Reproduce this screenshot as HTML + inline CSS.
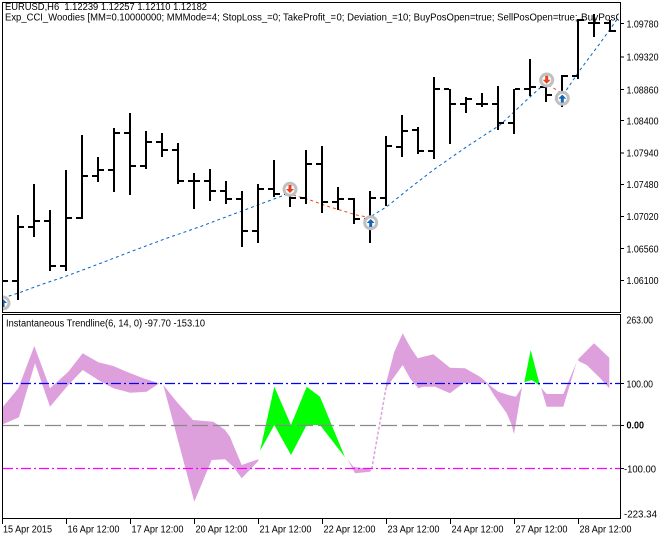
<!DOCTYPE html>
<html><head><meta charset="utf-8"><style>
html,body{margin:0;padding:0;background:#fff;}
svg{display:block;}
text{font-family:"Liberation Sans",Arial,sans-serif;font-size:10px;fill:#000;}
</style></head><body>
<svg width="672" height="539" viewBox="0 0 672 539" xmlns="http://www.w3.org/2000/svg">
<rect width="672" height="539" fill="#fff"/>
<defs>
<clipPath id="c1"><rect x="3" y="3" width="617" height="309"/></clipPath>
<clipPath id="c2"><rect x="3" y="315" width="617" height="203"/></clipPath>
<clipPath id="ct"><rect x="0" y="0" width="619" height="40"/></clipPath>
</defs>

<!-- header text -->
<g clip-path="url(#ct)">
<text x="5" y="10" textLength="202" lengthAdjust="spacingAndGlyphs">EURUSD,H6&#160; 1.12239 1.12257 1.12110 1.12182</text>
<text x="5" y="20.7" textLength="331" lengthAdjust="spacingAndGlyphs">Exp_CCI_Woodies [MM=0.10000000; MMMode=4; StopLoss_=0; TakeProfit_=</text>
<text x="336.5" y="20.7" textLength="241" lengthAdjust="spacingAndGlyphs">0; Deviation_=10; BuyPosOpen=true; SellPosOpen=true;</text>
<text x="581" y="20.7">BuyPosClose=true]</text>
</g>

<!-- top panel -->
<g clip-path="url(#c1)">
<polyline points="3,298 20,292.5 40,285 66.7,276 100,263.5 133.3,250.7 166,238.5 200,226.7 240,211.7 266.7,201.7 286,194.5" fill="none" stroke="#0064c8" stroke-width="1" stroke-dasharray="3,3"/>
<polyline points="293,195 310,200 326.7,206 343.3,211 356.7,215 368.3,217.3" fill="none" stroke="#f04a1a" stroke-width="1" stroke-dasharray="3,3"/>
<polyline points="371.7,216 386.7,206.7 408.3,189.3 433.3,170 466.7,146.7 500,125 526.7,100 543.3,85" fill="none" stroke="#0064c8" stroke-width="1" stroke-dasharray="3,3"/>
<polyline points="548.3,85 560,92" fill="none" stroke="#f04a1a" stroke-width="1" stroke-dasharray="3,3"/>
<polyline points="563,95 580,70 600,43.3 618,18" fill="none" stroke="#0064c8" stroke-width="1" stroke-dasharray="3,3"/>

<path shape-rendering="crispEdges" fill="#000" d="
M3 280h5v2h-5z
M17 215h2v85h-2z M12 280h5v2h-5z M19 226h5v2h-5z
M33 184h2v53h-2z M28 226h5v2h-5z M35 220h5v2h-5z
M49 210h2v61h-2z M44 220h5v2h-5z M51 265h5v2h-5z
M65 170h2v101h-2z M60 265h5v2h-5z M67 217h5v2h-5z
M81 135h2v84h-2z M76 217h5v2h-5z M83 175h5v2h-5z
M97 157h2v25h-2z M92 175h5v2h-5z M99 169h5v2h-5z
M113 128h2v64h-2z M108 169h5v2h-5z M115 132h5v2h-5z
M129 113h2v82h-2z M124 132h5v2h-5z M131 165h5v2h-5z
M145 131h2v38h-2z M140 165h5v2h-5z M147 141h5v2h-5z
M161 133h2v24h-2z M156 141h5v2h-5z M163 149h5v2h-5z
M177 143h2v41h-2z M172 149h5v2h-5z M179 180h5v2h-5z
M193 173h2v36h-2z M188 180h5v2h-5z M195 180h5v2h-5z
M209 169h2v32h-2z M204 180h5v2h-5z M211 190h5v2h-5z
M225 181h2v23h-2z M220 190h5v2h-5z M227 198h5v2h-5z
M241 191h2v56h-2z M236 198h5v2h-5z M243 230h5v2h-5z
M257 184h2v59h-2z M252 230h5v2h-5z M259 188h5v2h-5z
M273 160h2v37h-2z M268 188h5v2h-5z M275 193h5v2h-5z
M289 192h2v15h-2z M284 193h5v2h-5z M291 197h5v2h-5z
M305 150h2v54h-2z M300 197h5v2h-5z M307 163h5v2h-5z
M321 146h2v67h-2z M316 163h5v2h-5z M323 201h5v2h-5z
M337 187h2v23h-2z M332 201h5v2h-5z M339 198h5v2h-5z
M353 198h2v26h-2z M348 198h5v2h-5z M355 218h5v2h-5z
M369 191h2v52h-2z M364 218h5v2h-5z M371 197h5v2h-5z
M385 136h2v70h-2z M380 197h5v2h-5z M387 145h5v2h-5z
M401 115h2v42h-2z M396 146h5v2h-5z M403 130h5v2h-5z
M417 127h2v27h-2z M412 129h5v2h-5z M419 150h5v2h-5z
M433 77h2v82h-2z M428 150h5v2h-5z M435 88h5v2h-5z
M449 89h2v55h-2z M444 88h5v2h-5z M451 103h5v2h-5z
M465 97h2v16h-2z M460 103h5v2h-5z M467 98h5v2h-5z
M481 93h2v14h-2z M476 103h5v2h-5z M483 103h5v2h-5z
M497 86h2v44h-2z M492 103h5v2h-5z M499 122h5v2h-5z
M513 89h2v45h-2z M508 122h5v2h-5z M515 88h5v2h-5z
M529 59h2v37h-2z M524 88h5v2h-5z M531 86h5v2h-5z
M545 83h2v19h-2z M540 86h5v2h-5z M547 94h5v2h-5z
M561 75h2v32h-2z M556 94h5v2h-5z M563 75h5v2h-5z
M577 19h2v60h-2z M572 75h5v2h-5z M579 19h5v2h-5z
M593 14h2v23h-2z M588 22h5v2h-5z M595 22h5v2h-5z
M609 20h2v12h-2z M604 22h5v2h-5z M611 30h5v2h-5z"/>

<g stroke="#c0c0c0" stroke-width="3" fill="#fff">
<circle cx="3" cy="303" r="6"/>
<circle cx="290" cy="189.3" r="6"/>
<circle cx="370.7" cy="222.7" r="6"/>
<circle cx="546.7" cy="80" r="6"/>
<circle cx="562.3" cy="98.3" r="6"/>
</g>
<g fill="#1464b4">
<path d="M-1,303 l4,-4 l4,4 z M1.5,303 h3 v4 h-3 z"/>
<path d="M366.7,223 l4,-4 l4,4 z M369.2,223 h3 v4 h-3 z"/>
<path d="M558.3,98.6 l4,-4 l4,4 z M560.8,98.6 h3 v4 h-3 z"/>
</g>
<g fill="#e8401c">
<path d="M286,189 l4,4 l4,-4 z M288.5,185 h3 v4 h-3 z"/>
<path d="M542.7,79.7 l4,4 l4,-4 z M545.2,75.7 h3 v4 h-3 z"/>
</g>
</g>

<rect x="2.5" y="2.5" width="618" height="310" fill="none" stroke="#000" stroke-width="1"/>

<g stroke="#000" stroke-width="1" shape-rendering="crispEdges">
<line x1="620" y1="23.5" x2="624" y2="23.5"/>
<line x1="620" y1="57" x2="624" y2="57"/>
<line x1="620" y1="89.5" x2="624" y2="89.5"/>
<line x1="620" y1="120.5" x2="624" y2="120.5"/>
<line x1="620" y1="153" x2="624" y2="153"/>
<line x1="620" y1="184.5" x2="624" y2="184.5"/>
<line x1="620" y1="216.5" x2="624" y2="216.5"/>
<line x1="620" y1="248.5" x2="624" y2="248.5"/>
<line x1="620" y1="280.5" x2="624" y2="280.5"/>
</g>
<g>
<text x="626.5" y="27.4" textLength="32" lengthAdjust="spacingAndGlyphs">1.09780</text>
<text x="626.5" y="60.7" textLength="32" lengthAdjust="spacingAndGlyphs">1.09320</text>
<text x="626.5" y="93.4" textLength="32" lengthAdjust="spacingAndGlyphs">1.08860</text>
<text x="626.5" y="124.4" textLength="32" lengthAdjust="spacingAndGlyphs">1.08400</text>
<text x="626.5" y="156.7" textLength="32" lengthAdjust="spacingAndGlyphs">1.07940</text>
<text x="626.5" y="188" textLength="32" lengthAdjust="spacingAndGlyphs">1.07480</text>
<text x="626.5" y="220" textLength="32" lengthAdjust="spacingAndGlyphs">1.07020</text>
<text x="626.5" y="252.4" textLength="32" lengthAdjust="spacingAndGlyphs">1.06560</text>
<text x="626.5" y="284" textLength="32" lengthAdjust="spacingAndGlyphs">1.06100</text>
</g>

<!-- lower panel -->
<g clip-path="url(#c2)">
<g fill="#dda0dd">
<polygon points="3,406.7 18.3,388.3 34.3,346 50,388.3 68.3,371.7 82.7,353.3 98.3,362.3 113.3,366 126.7,371.7 143.3,378.3 159.3,383.3 146.7,391.7 130,392.7 113.3,388.3 98.3,380 82.7,370 68.3,385 50,406.7 35,363.3 19,417.3 3,424.3"/>
<polygon points="163.3,385 176.7,401.7 193,420 213.3,421.7 218.3,425 225,430 230,436.7 233.3,445 238.3,456.7 241.7,465 258.3,459.3 258.3,461 241.7,478.3 233.3,466.7 225,459.3 211.7,460 194.3,501.7"/>
<polygon points="347.7,459.3 353.3,466.7 370,469.3 371.5,470.5 370,471.7 355,473.3"/>
<polygon points="386,383.3 394.3,351.7 402.7,333.3 410,346.7 417.7,358.3 433.3,354.3 450,367.7 465,368.3 480,376.7 491.7,386.7 498.3,391.7 508.3,395 516,396.7 522,387 514,434.3 511.7,425 506.7,413.3 495,396.7 486.7,383.3 463.3,383.3 450,393.3 435,386.7 423.3,386.7 418.3,388.3 410,378.3 402.7,365 386,388.3"/>
<polygon points="541,387.7 546.7,394 563.3,394 576.7,362 563.3,406.7 546.7,406.7"/>
<polygon points="578.3,359 594,343.3 609.3,357.7 609.3,388.3 600,378 586.7,365 578.3,361"/>
</g>
<line x1="371.7" y1="469" x2="386.7" y2="384" stroke="#dda0dd" stroke-width="1.5" stroke-dasharray="3,2"/>
<g fill="#00ff00">
<polygon points="260,451 274.3,386.7 291,425 306.7,386.7 320,396.7 345,457.3 320,425 306.7,425 291,455 274.3,425"/>
<polygon points="524.3,382.3 530.7,350 540,385.7 531.7,380"/>
</g>
<line x1="3" y1="383.5" x2="620" y2="383.5" stroke="#0000ff" stroke-width="1.2" stroke-dasharray="10,3,2,3"/>
<line x1="3" y1="425.5" x2="620" y2="425.5" stroke="#8a8a8a" stroke-width="1.2" stroke-dasharray="16,5"/>
<line x1="3" y1="468.5" x2="620" y2="468.5" stroke="#ff00ff" stroke-width="1.2" stroke-dasharray="10,3,2,3"/>
<text x="6" y="326.7" textLength="199" lengthAdjust="spacingAndGlyphs">Instantaneous Trendline(6, 14, 0) -97.70 -153.10</text>
</g>

<rect x="2.5" y="314.5" width="618" height="204" fill="none" stroke="#000" stroke-width="1"/>

<g stroke="#000" stroke-width="1" shape-rendering="crispEdges">
<line x1="620" y1="383.5" x2="624" y2="383.5"/>
<line x1="620" y1="425.5" x2="624" y2="425.5"/>
<line x1="620" y1="468.5" x2="624" y2="468.5"/>
</g>
<text x="626.5" y="323.3" textLength="26.5" lengthAdjust="spacingAndGlyphs">263.00</text>
<text x="626.5" y="387.3" textLength="26.5" lengthAdjust="spacingAndGlyphs">100.00</text>
<text x="626.5" y="428.6" textLength="17.5" lengthAdjust="spacingAndGlyphs" font-weight="bold">0.00</text>
<text x="624" y="472.3" textLength="32" lengthAdjust="spacingAndGlyphs">-100.00</text>
<text x="624" y="517.3" textLength="33" lengthAdjust="spacingAndGlyphs">-223.34</text>

<g stroke="#000" stroke-width="1" shape-rendering="crispEdges">
<line x1="2.5" y1="519" x2="2.5" y2="524"/>
<line x1="66.5" y1="519" x2="66.5" y2="524"/>
<line x1="130.5" y1="519" x2="130.5" y2="524"/>
<line x1="194.5" y1="519" x2="194.5" y2="524"/>
<line x1="258.5" y1="519" x2="258.5" y2="524"/>
<line x1="322.5" y1="519" x2="322.5" y2="524"/>
<line x1="386.5" y1="519" x2="386.5" y2="524"/>
<line x1="450.5" y1="519" x2="450.5" y2="524"/>
<line x1="514.5" y1="519" x2="514.5" y2="524"/>
<line x1="578.5" y1="519" x2="578.5" y2="524"/>
</g>
<g>
<text x="3" y="532.3" textLength="49" lengthAdjust="spacingAndGlyphs">15 Apr 2015</text>
<text x="67.5" y="532.3" textLength="52" lengthAdjust="spacingAndGlyphs">16 Apr 12:00</text>
<text x="131.5" y="532.3" textLength="52" lengthAdjust="spacingAndGlyphs">17 Apr 12:00</text>
<text x="195.5" y="532.3" textLength="52" lengthAdjust="spacingAndGlyphs">20 Apr 12:00</text>
<text x="259.5" y="532.3" textLength="52" lengthAdjust="spacingAndGlyphs">21 Apr 12:00</text>
<text x="323.5" y="532.3" textLength="52" lengthAdjust="spacingAndGlyphs">22 Apr 12:00</text>
<text x="387.5" y="532.3" textLength="52" lengthAdjust="spacingAndGlyphs">23 Apr 12:00</text>
<text x="451.5" y="532.3" textLength="52" lengthAdjust="spacingAndGlyphs">24 Apr 12:00</text>
<text x="515.5" y="532.3" textLength="52" lengthAdjust="spacingAndGlyphs">27 Apr 12:00</text>
<text x="579.5" y="532.3" textLength="52" lengthAdjust="spacingAndGlyphs">28 Apr 12:00</text>
</g>
</svg>
</body></html>
